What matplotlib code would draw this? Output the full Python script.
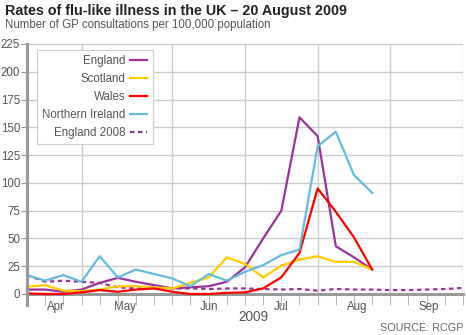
import matplotlib
matplotlib.use("Agg")
import matplotlib.pyplot as plt
from matplotlib.transforms import blended_transform_factory

plt.rcParams['font.family'] = ['Liberation Sans', 'DejaVu Sans']

# weekly values, week 0 = first week shown
weeks = list(range(25))
england = [4, 4, 2, 4, 10, 14.5, 11, 8, 5, 6, 7, 11, 24, 50, 75, 159, 142, 43, 33, 22]
scotland = [6.5, 8, 3, 2.5, 4, 7, 7, 6, 5, 10, 15, 33, 27, 15, 25.5, 31, 34, 29, 29, 22]
wales = [0.5, 0, 0, 1.5, 3.5, 2, 4, 5, 2, 0, 0, 1, 1.5, 5, 15, 37, 95, 74, 51, 22]
n_ireland = [17, 12, 17, 11, 34, 15, 22, 18, 14, 7, 18, 12, 20, 26, 35, 40, 133, 146, 107, 91]
england_2008 = [17, 11, 12, 11, 10, 6, 5, 5, 5, 5, 4.5, 5, 5, 4.5, 4, 4.5, 3, 4.5, 4, 4,
                3.5, 3.5, 4, 4.5, 5.5]

month_labels = ["Apr", "May", "Jun", "Jul", "Aug", "Sep"]
month_pos = [1.6, 5.4, 10.0, 14.0, 18.2, 22.1]
grid_weeks = [3, 8, 12, 16, 20, 24]
yticks = [0, 25, 50, 75, 100, 125, 150, 175, 200, 225]

W, H = 466, 335
fig = plt.figure(figsize=(W / 100, H / 100), dpi=100)
ax = fig.add_axes([27 / W, 41 / H, 436 / W, 250 / H])

ax.set_xlim(0, 24)
ax.set_ylim(0, 225)

for y in yticks[1:]:
    ax.axhline(y, color='#cccccc', lw=1, zorder=1)
for g in grid_weeks:
    ax.axvline(g, color='#cccccc', lw=1, zorder=1)

ax.plot(weeks[:len(england)], england, color='#993399', lw=1.6, label='England', zorder=4, clip_on=False)
ax.plot(weeks[:len(scotland)], scotland, color='#ffcc00', lw=1.6, label='Scotland', zorder=4, clip_on=False)
ax.plot(weeks[:len(wales)], wales, color='#ff0000', lw=1.6, label='Wales', zorder=4, clip_on=False)
ax.plot(weeks[:len(n_ireland)], n_ireland, color='#66bbdd', lw=1.6, label='Northern Ireland', zorder=4, clip_on=False)
ax.plot(weeks, england_2008, color='#993399', lw=1.6, ls=(0, (2, 1.6)), label='England 2008', zorder=3, clip_on=False)

for s in ['top', 'right', 'left']:
    ax.spines[s].set_visible(False)
ax.spines['bottom'].set_color('#999999')
ax.spines['bottom'].set_linewidth(2.2)
ax.axvline(0, ymin=-0.045, ymax=1, color='#999999', lw=2.2, clip_on=False, zorder=5)

ax.set_xticks(weeks)
ax.set_xticklabels([])
ax.tick_params(axis='x', length=8, width=0.8, color='#bbbbbb', direction='out')
ax.set_yticks(yticks)
ax.set_yticklabels([str(v) for v in yticks])
ax.tick_params(axis='y', length=4, width=0.8, color='#999999', labelsize=8.3, labelcolor='#555555', pad=1)

trans = blended_transform_factory(ax.transData, fig.transFigure)
for lab, p in zip(month_labels, month_pos):
    ax.text(p, 1 - 307 / H, lab, transform=trans, ha='center', va='center', fontsize=8.3, color='#555555')
ax.text(12.45, 1 - 317 / H, "2009", transform=trans, ha='center', va='center', fontsize=9.8, color='#555555')
fig.text(463 / W, 1 - 328 / H, "SOURCE: RCGP", ha='right', va='center', fontsize=7.8, color='#666666')

fig.text(5 / W, 1 - 11 / H, "Rates of flu-like illness in the UK \u2013 20 August 2009",
         fontsize=10.3, fontweight='bold', color='#222222', va='center')
fig.text(5 / W, 1 - 25 / H, "Number of GP consultations per 100,000 population",
         fontsize=8.3, color='#555555', va='center')

leg = ax.legend(loc='upper left', bbox_to_anchor=(37 / W, 1 - 50 / H), bbox_transform=fig.transFigure,
                borderaxespad=0, markerfirst=False, handlelength=1.5, handletextpad=0.4,
                labelspacing=0.52, fontsize=8.3, frameon=True, fancybox=False,
                edgecolor='#cccccc', framealpha=1, borderpad=0.45)
for t in leg.get_texts():
    t.set_color('#555555')
    t.set_ha('right')
leg.get_frame().set_linewidth(0.8)

fig.savefig("out.png", dpi=100)
